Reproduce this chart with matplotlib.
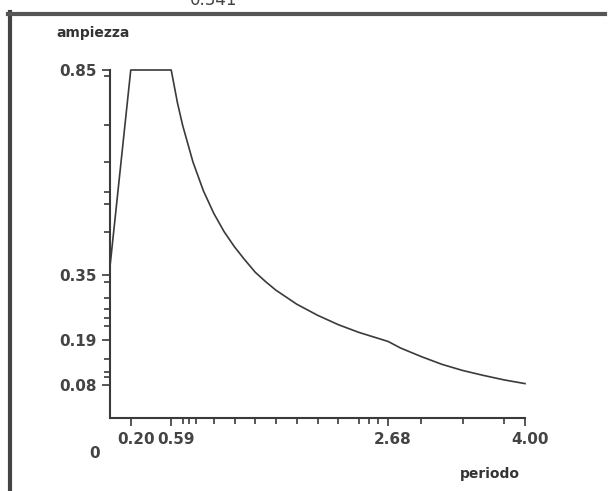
import matplotlib
matplotlib.use('Agg')
import matplotlib.pyplot as plt
from matplotlib.lines import Line2D

# periodo T [s] and ampiezza
periodo = [0.0, 0.20, 0.59, 0.65, 0.70, 0.80, 0.90, 1.00, 1.10, 1.20, 1.30, 1.40,
           1.50, 1.60, 1.80, 2.00, 2.20, 2.40, 2.68, 2.80, 3.00, 3.20, 3.40,
           3.60, 3.80, 4.00]
ampiezza = [0.37, 0.85, 0.85, 0.77, 0.715, 0.625, 0.555, 0.50, 0.455, 0.418,
            0.386, 0.356, 0.333, 0.312, 0.278, 0.251, 0.228, 0.209, 0.187,
            0.171, 0.150, 0.131, 0.116, 0.104, 0.093, 0.084]

x_major = [0.20, 0.59, 2.68, 4.00]
x_major_lab = ['0.20', '0.59', '2.68', '4.00']
x_minor = [0.70, 0.76, 0.83, 1.0, 1.2, 1.4, 1.6, 1.8, 2.0, 2.2, 2.4, 2.5,
           2.58, 3.0, 3.4, 3.8]
y_major = [0.08, 0.19, 0.35, 0.85]
y_major_lab = ['0.08', '0.19', '0.35', '0.85']
y_minor = [0.099, 0.112, 0.144, 0.225, 0.245, 0.267, 0.292, 0.331, 0.454,
           0.523, 0.552, 0.626, 0.715, 0.835]

INK = '#3a3a3a'
W, H = 609, 491

fig = plt.figure(figsize=(W / 100, H / 100), dpi=100)
ax = fig.add_axes([110 / W, 1 - 418 / H, (525 - 110) / W, (418 - 70) / H])

ax.plot(periodo, ampiezza, color=INK, lw=1.2, clip_on=False)
ax.set_xlim(0, 4.0)
ax.set_ylim(0, 0.85)

for s in ['top', 'right']:
    ax.spines[s].set_visible(False)
for s in ['left', 'bottom']:
    ax.spines[s].set_color(INK)
    ax.spines[s].set_linewidth(1.5)

ax.set_xticks(x_major)
ax.set_xticklabels(x_major_lab)
ax.set_xticks(x_minor, minor=True)
ax.set_yticks(y_major)
ax.set_yticklabels(y_major_lab)
ax.set_yticks(y_minor, minor=True)
ax.tick_params(axis='both', which='major', length=6, width=1.2, color=INK,
               labelsize=11, labelcolor='#444444')
ax.tick_params(axis='both', which='minor', length=4, width=1.2, color=INK)
ax.tick_params(axis='x', which='major', pad=4)
for lab in ax.get_xticklabels():
    lab.set_horizontalalignment('left')
    lab.set_x(0)
for lab in ax.get_xticklabels():
    lab.set_transform(lab.get_transform() + matplotlib.transforms.ScaledTranslation(-14 / 100, 0, fig.dpi_scale_trans))
for lab in ax.get_xticklabels() + ax.get_yticklabels():
    lab.set_fontweight('bold')

fig.text(95 / W, 1 - 453 / H, '0', ha='center', va='center', fontsize=11,
         color='#444444', fontweight='bold')
fig.text(93 / W, 1 - 33 / H, 'ampiezza', ha='center', va='center', fontsize=10,
         color='#333333', fontweight='bold')
fig.text(490 / W, 1 - 474 / H, 'periodo', ha='center', va='center', fontsize=10,
         color='#333333', fontweight='bold')
fig.text(214 / W, 1 - 5 / H, '0.341', ha='center', va='baseline', fontsize=12,
         color='#444444')

# frame lines of the original screenshot
fig.add_artist(Line2D([9.5 / W, 9.5 / W], [0, 1 - 12 / H], color='#444444', lw=3))
fig.add_artist(Line2D([8 / W, 605 / W], [1 - 14 / H, 1 - 14 / H], color='#555555', lw=3))

fig.savefig('out.png', dpi=100)
